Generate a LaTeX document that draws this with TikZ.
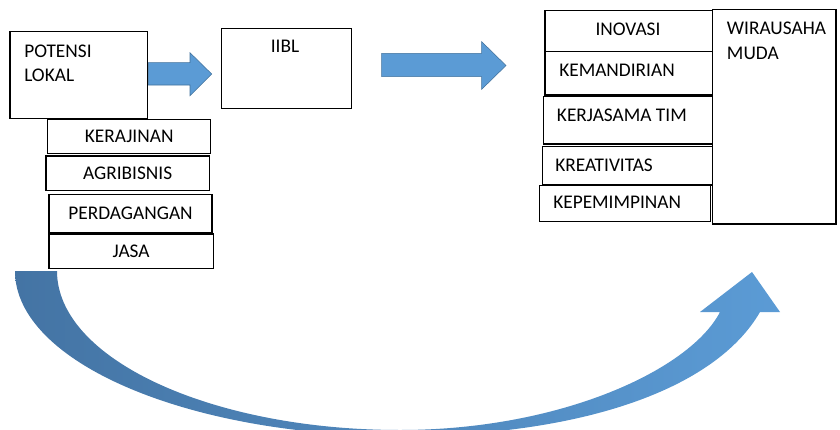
\documentclass[tikz,border=0pt]{standalone}
\usepackage{fontspec}
\setmainfont{Carlito}
\definecolor{arrowblue}{RGB}{91,155,213}
\definecolor{arrowedge}{RGB}{65,113,156}
\definecolor{curvedark}{RGB}{68,116,164}

\begin{document}
\begin{tikzpicture}[x=0.75pt, y=-0.75pt, every node/.style={font=\fontsize{14.5}{17.5}\selectfont},
    box/.style={draw, line width=0.9pt, inner sep=0pt},
    lbl/.style={inner sep=0pt, anchor=west},
    blockarrow/.style={fill=arrowblue, draw=arrowedge, line width=0.4pt}]
    \useasboundingbox (0,0) rectangle (840,429);

    % Left side
    \node[box, minimum width=103.3pt, minimum height=65pt] (potensi) at (78.85,75) {};
    \node[lbl] (potensia) at (24,51.7) {POTENSI};
    \node[lbl] (potensib) at (24,75) {LOKAL};
    \node[box, minimum width=97.5pt, minimum height=60pt] (iibl) at (286.7,68.3) {};
    \node[inner sep=0pt] (iibltext) at (285,46.7) {IIBL};
    \node[box, minimum width=122.25pt, minimum height=25.5pt] (kerajinan) at (129.2,136.3) {KERAJINAN};
    \node[box, minimum width=122.5pt, minimum height=26pt] (agribisnis) at (127.65,173.35) {AGRIBISNIS};
    \node[box, minimum width=122.25pt, minimum height=28.5pt] (perdagangan) at (130.5,213.3) {PERDAGANGAN};
    \node[box, minimum width=123.2pt, minimum height=25.7pt] (jasa) at (131.15,251.15) {JASA};

    % Right side
    \node[box, minimum width=125.8pt, minimum height=30.75pt] (inovasi) at (628.85,31.2) {};
    \node[inner sep=0pt] (inovasitext) at (628,29.3) {INOVASI};
    \node[box, minimum width=125.8pt, minimum height=32.5pt] (kemandirian) at (628.85,73.35) {};
    \node[lbl] (kemandiriantext) at (559,70) {KEMANDIRIAN};
    \node[box, minimum width=127pt, minimum height=35.5pt] (kerjasama) at (628,120.35) {};
    \node[lbl] (kerjasamatext) at (556.7,115) {KERJASAMA TIM};
    \node[box, minimum width=127.8pt, minimum height=28.7pt] (kreativitas) at (627.5,165.85) {};
    \node[lbl] (kreativitastext) at (555,165) {KREATIVITAS};
    \node[box, minimum width=128.5pt, minimum height=27pt] (kepemimpinan) at (625,203.7) {};
    \node[lbl] (kepemimpinantext) at (553,202.7) {KEPEMIMPINAN};
    \node[box, minimum width=92.5pt, minimum height=161pt] (wirausaha) at (774.35,116.65) {};
    \node[lbl] (wirausahaa) at (726.7,28.3) {WIRAUSAHA};
    \node[lbl] (wirausahab) at (726.7,53.3) {MUDA};

    % Straight arrows
    \draw[blockarrow] (potensi.east |- 0,62.7) -- (190,62.7) -- (190,52.7) -- (211.7,74) -- (190,95.7) -- (190,85) -- (potensi.east |- 0,85) -- cycle;
    \draw[blockarrow] (381.7,53.3) -- (481.7,53.3) -- (481.7,41.7) -- (506,65.5) -- (481.7,89.3) -- (481.7,76.7) -- (381.7,76.7) -- cycle;

    % Curved arrow
    \shade[left color=curvedark, right color=arrowblue]
        (15,271) .. controls (15,362) and (187.5,436) .. (400,436)
        .. controls (580,436) and (715,390) .. (760,312)
        -- (780,312) -- (752,272) -- (700,312) -- (720,312)
        .. controls (690,370) and (560,430) .. (400,430)
        .. controls (210.7,430) and (57,358.8) .. (57,271) -- cycle;
\end{tikzpicture}
\end{document}
